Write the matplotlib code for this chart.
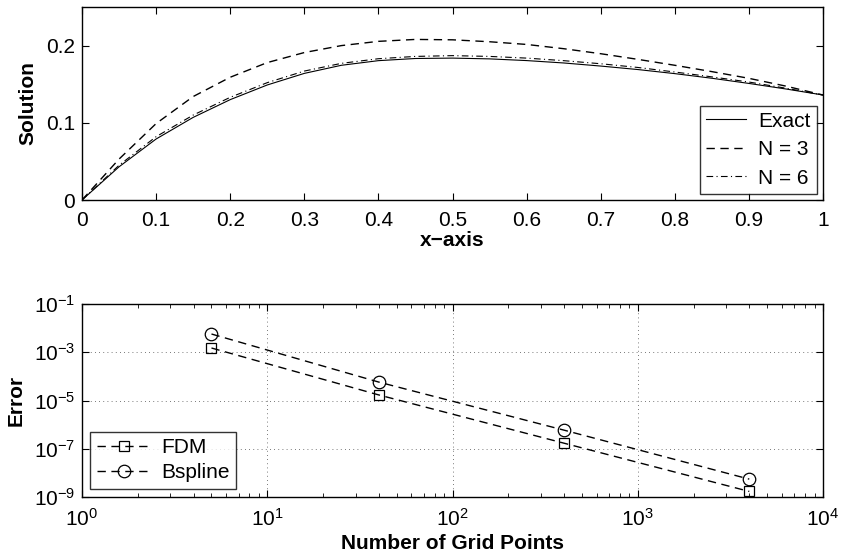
import matplotlib
matplotlib.use("Agg")
import matplotlib.pyplot as plt
from matplotlib.ticker import LogLocator, NullLocator

plt.rcParams['font.family'] = ['Liberation Sans', 'DejaVu Sans']
plt.rcParams['mathtext.fontset'] = 'custom'
plt.rcParams['mathtext.rm'] = 'Liberation Sans'
plt.rcParams['mathtext.it'] = 'Liberation Sans:italic'
plt.rcParams['mathtext.bf'] = 'Liberation Sans:bold'
plt.rcParams['font.size'] = 15

# top panel: solution along x
x_sol = [0, 0.05, 0.1, 0.15, 0.2, 0.25, 0.3, 0.35, 0.4, 0.45, 0.5,
         0.55, 0.6, 0.65, 0.7, 0.75, 0.8, 0.85, 0.9, 0.95, 1.0]
exact = [0, 0.043, 0.079, 0.107, 0.130, 0.149, 0.164, 0.1745, 0.1805, 0.1833, 0.1838,
         0.1828, 0.1806, 0.1775, 0.1735, 0.169, 0.1637, 0.1577, 0.151, 0.1438, 0.136]
n3 = [0, 0.053, 0.099, 0.134, 0.159, 0.178, 0.191, 0.200, 0.2055, 0.208, 0.2075,
      0.205, 0.2015, 0.196, 0.1895, 0.1822, 0.1745, 0.1663, 0.1576, 0.1475, 0.136]
n6 = [0, 0.045, 0.082, 0.110, 0.133, 0.152, 0.167, 0.177, 0.183, 0.186, 0.187,
      0.186, 0.1838, 0.1805, 0.1765, 0.1717, 0.1658, 0.1595, 0.1528, 0.1448, 0.136]

# bottom panel: error vs grid size
grid_points = [5, 40, 400, 4000]
err_fdm = [1.5e-3, 1.7e-5, 1.7e-7, 1.7e-9]
err_bspline = [5.7e-3, 5.8e-5, 5.9e-7, 5.5e-9]

fig = plt.figure(figsize=(8.43, 5.56), dpi=100)
ax1 = fig.add_axes([82 / 843, 1 - 200 / 556, 741 / 843, 193 / 556])
ax2 = fig.add_axes([82 / 843, 1 - 497 / 556, 741 / 843, 193 / 556])

ax1.plot(x_sol, exact, color='k', lw=0.8, label='Exact')
ax1.plot(x_sol, n3, color='k', lw=1.0, ls=(0, (6, 4)), label='N = 3')
ax1.plot(x_sol, n6, color='k', lw=0.8, ls=(0, (6, 3, 1, 3)), label='N = 6')
ax1.set_xlim(0, 1)
ax1.set_ylim(0, 0.25)
ax1.set_xticks([i / 10 for i in range(11)])
ax1.set_xticklabels(['0', '0.1', '0.2', '0.3', '0.4', '0.5', '0.6', '0.7', '0.8', '0.9', '1'])
ax1.set_yticks([0, 0.1, 0.2])
ax1.set_yticklabels(['0', '0.1', '0.2'])
ax1.set_xlabel('x\u2212axis', fontweight='bold', labelpad=1)
ax1.set_ylabel('Solution', fontweight='bold', labelpad=6)
leg1 = ax1.legend(loc='lower right', fancybox=False, edgecolor='k',
                  handlelength=1.9, borderaxespad=0.3, labelspacing=0.45,
                  borderpad=0.3, handletextpad=0.6)
leg1.get_frame().set_linewidth(1.0)

ax2.loglog(grid_points, err_fdm, color='k', lw=1.0, ls=(0, (6, 4)),
           marker='s', ms=7, mfc='none', mec='k', mew=0.9, label='FDM')
ax2.loglog(grid_points, err_bspline, color='k', lw=1.0, ls=(0, (6, 4)),
           marker='o', ms=9, mfc='none', mec='k', mew=0.9, label='Bspline')
ax2.set_xlim(1, 1e4)
ax2.set_ylim(1e-9, 1e-1)
ax2.set_yticks([1e-1, 1e-3, 1e-5, 1e-7, 1e-9])
ax2.yaxis.set_minor_locator(NullLocator())
ax2.xaxis.set_minor_locator(LogLocator(base=10, subs=range(2, 10), numticks=20))
ax2.grid(True, which='major', color='k', ls=(0, (1, 4)), lw=0.6, alpha=0.7)
ax2.set_xlabel('Number of Grid Points', fontweight='bold', labelpad=3)
ax2.set_ylabel('Error', fontweight='bold', labelpad=6)
leg2 = ax2.legend(loc='lower left', fancybox=False, edgecolor='k',
                  handlelength=2.6, borderaxespad=0.4, labelspacing=0.3,
                  borderpad=0.3, handletextpad=0.5)
leg2.get_frame().set_linewidth(1.0)

for ax in (ax1, ax2):
    ax.tick_params(which='both', direction='in', top=True, right=True,
                   colors='k', labelsize=15)
    ax.tick_params(which='major', length=5, width=0.8)
    ax.tick_params(which='minor', length=3, width=0.6)
    ax.tick_params(axis='x', which='both', pad=8)
    ax.tick_params(axis='y', which='both', pad=5)
    for s in ax.spines.values():
        s.set_linewidth(1.0)

fig.savefig('out.png', dpi=100)
